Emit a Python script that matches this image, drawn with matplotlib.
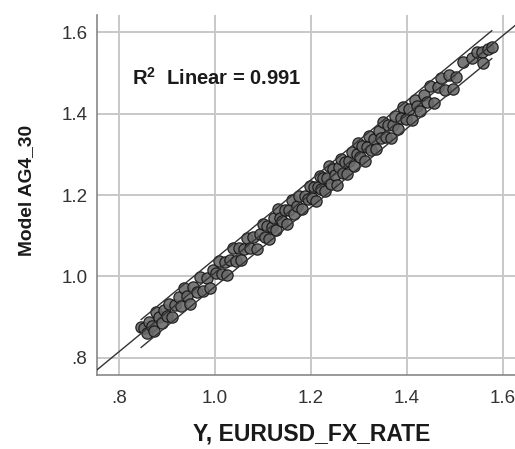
import numpy as np
import matplotlib
matplotlib.use("Agg")
import matplotlib.pyplot as plt

eurusd = [0.846, 0.852, 0.858, 0.862, 0.868, 0.873, 0.878, 0.884, 0.889, 0.894, 0.899, 0.905, 0.911, 0.917,
          0.924, 0.930, 0.936, 0.942, 0.948, 0.955, 0.962, 0.968, 0.975, 0.983, 0.990, 0.996,
          1.003, 1.008, 1.014, 1.020, 1.026, 1.031, 1.037, 1.043, 1.049, 1.055, 1.061, 1.067, 1.074, 1.080, 1.087, 1.094,
          1.101, 1.105, 1.109, 1.113, 1.118, 1.122, 1.127, 1.131, 1.136, 1.140, 1.145, 1.150, 1.155, 1.160, 1.165,
          1.170, 1.176, 1.181, 1.187, 1.193, 1.198,
          1.202, 1.206, 1.210, 1.214, 1.218, 1.222, 1.226, 1.230, 1.234, 1.238, 1.242, 1.246, 1.250, 1.254, 1.258,
          1.262, 1.266, 1.270, 1.275, 1.280, 1.285, 1.290, 1.295, 1.299,
          1.303, 1.307, 1.312, 1.316, 1.321, 1.326, 1.331, 1.336, 1.341, 1.346, 1.351, 1.356, 1.361, 1.366, 1.371,
          1.376, 1.381, 1.387, 1.392, 1.398,
          1.404, 1.410, 1.416, 1.422, 1.428, 1.435, 1.442, 1.449, 1.456, 1.464, 1.472, 1.480, 1.488, 1.497,
          1.503, 1.517, 1.535, 1.546, 1.556, 1.558, 1.570, 1.577]
model = [0.877, 0.873, 0.861, 0.888, 0.879, 0.866, 0.913, 0.901, 0.885, 0.917, 0.903, 0.933, 0.900, 0.930,
         0.949, 0.928, 0.972, 0.951, 0.933, 0.973, 0.962, 0.998, 0.965, 0.997, 0.971, 1.016,
         1.008, 1.039, 1.006, 1.036, 1.003, 1.041, 1.071, 1.037, 1.070, 1.040, 1.067, 1.094, 1.071, 1.097, 1.068, 1.105,
         1.130, 1.098, 1.123, 1.091, 1.122, 1.144, 1.113, 1.165, 1.143, 1.135, 1.164, 1.129, 1.164, 1.187, 1.153,
         1.173, 1.197, 1.166, 1.198, 1.189, 1.221,
         1.192, 1.220, 1.185, 1.219, 1.247, 1.215, 1.242, 1.210, 1.241, 1.272, 1.228, 1.265, 1.248, 1.225, 1.268,
         1.289, 1.254, 1.282, 1.251, 1.283, 1.306, 1.272, 1.300, 1.328,
         1.293, 1.321, 1.284, 1.318, 1.344, 1.310, 1.338, 1.313, 1.357, 1.341, 1.379, 1.342, 1.371, 1.340, 1.371,
         1.394, 1.363, 1.390, 1.416, 1.386,
         1.412, 1.385, 1.433, 1.418, 1.406, 1.446, 1.428, 1.468, 1.427, 1.465, 1.488, 1.459, 1.494, 1.461,
         1.490, 1.526, 1.536, 1.552, 1.551, 1.524, 1.558, 1.563]

xticks = [0.8, 1.0, 1.2, 1.4, 1.6]
xticklabels = [".8", "1.0", "1.2", "1.4", "1.6"]
yticks = [0.8, 1.0, 1.2, 1.4, 1.6]
yticklabels = [".8", "1.0", "1.2", "1.4", "1.6"]

plt.rcParams['font.family'] = ['Liberation Sans', 'DejaVu Sans']
plt.rcParams['mathtext.fontset'] = 'custom'
plt.rcParams['mathtext.rm'] = 'Liberation Sans:bold'
plt.rcParams['mathtext.bf'] = 'Liberation Sans:bold'

x = np.array(eurusd)
y = np.array(model)
n = len(x)

# linear fit + 95% interval for individual predictions
b1, b0 = np.polyfit(x, y, 1)
resid = y - (b0 + b1 * x)
s = np.sqrt(np.sum(resid ** 2) / (n - 2))
sxx = np.sum((x - x.mean()) ** 2)

fig = plt.figure(figsize=(5.15, 4.49), dpi=100)
ax = fig.add_axes([97 / 515, 1 - 375 / 449, 425 / 515, 360 / 449])
ax.set_xlim(0.754, 1.64)
ax.set_ylim(0.758, 1.642)

ax.set_axisbelow(True)
ax.grid(True, color='#c8c8c8', lw=1.4)

ax.scatter(x, y, s=66, facecolor='#6a6a6a', edgecolor='#141414', lw=0.9, alpha=0.9, zorder=3)

xl = np.array(ax.get_xlim())
ax.plot(xl, b0 + b1 * xl, color='#333333', lw=1.0, zorder=4)
xs = np.linspace(x.min(), x.max(), 100)
half = 1.97 * s * np.sqrt(1 + 1 / n + (xs - x.mean()) ** 2 / sxx)
ax.plot(xs, b0 + b1 * xs + half, color='#333333', lw=1.0, zorder=4)
ax.plot(xs, b0 + b1 * xs - half, color='#333333', lw=1.0, zorder=4)

ax.text(0.827, 1.487, r"R$^{\mathbf{2}}$  Linear = 0.991", fontsize=14.5, fontweight='bold',
        color='#1a1a1a', va='center', ha='left', zorder=5)

ax.set_xticks(xticks)
ax.set_xticklabels(xticklabels)
ax.set_yticks(yticks)
ax.set_yticklabels(yticklabels)
ax.tick_params(length=0, labelsize=13.5, labelcolor='#333333')
ax.tick_params(axis='x', pad=11)
ax.tick_params(axis='y', pad=7)

for side in ['top', 'right']:
    ax.spines[side].set_visible(False)
for side in ['left', 'bottom']:
    ax.spines[side].set_color('#888888')
    ax.spines[side].set_linewidth(1.2)

fig.text(312 / 515, 1 - 434 / 449, "Y, EURUSD_FX_RATE", fontsize=16.5, fontweight='bold',
         ha='center', va='center', color='#1a1a1a')
fig.text(27 / 515, 1 - 190 / 449, "Model AG4_30", fontsize=13.8, fontweight='bold',
         ha='center', va='center', rotation=90, color='#1a1a1a')

plt.savefig('out.png', dpi=100)
